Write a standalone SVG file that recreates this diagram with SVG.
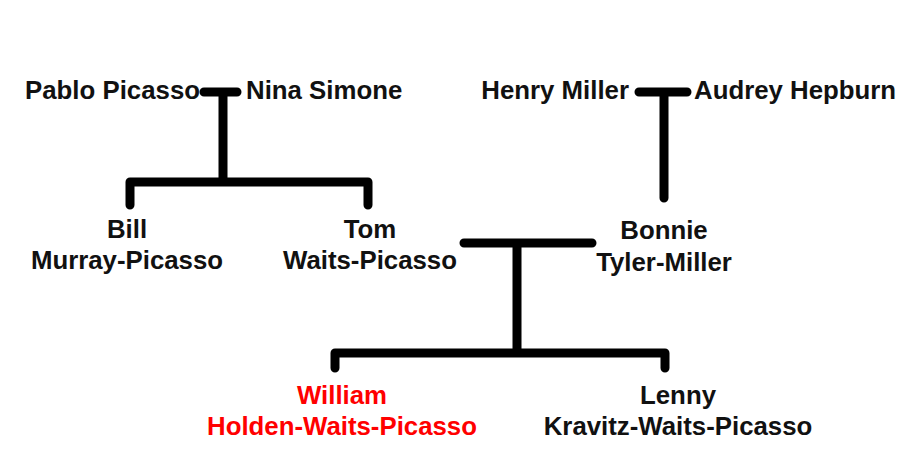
<svg xmlns="http://www.w3.org/2000/svg" width="900" height="461" viewBox="0 0 900 461">
<style>
.t{font-family:"Liberation Sans",Arial,sans-serif;font-weight:bold;font-size:25.8px;fill:#111}
.c{text-anchor:middle}
.red{fill:#ff0000}
.ln{fill:none;stroke:#000;stroke-width:9;stroke-linecap:round;stroke-linejoin:round}
</style>
<rect width="900" height="461" fill="#fff"/>
<g id="connectors">
<path class="ln" d="M204,92 H237 M223,92 V180"/>
<path class="ln" d="M130,205 V182 H368 V205"/>
<path class="ln" d="M639,92 H687 M664,92 V198"/>
<path class="ln" d="M464,243 H592 M517,243 V352"/>
<path class="ln" d="M335,368 V353 H665 V368"/>
</g>
<g id="pablo"><text class="t" x="200" y="99" text-anchor="end">Pablo Picasso</text></g>
<g id="nina"><text class="t" x="246" y="99">Nina Simone</text></g>
<g id="henry"><text class="t" x="629" y="99" text-anchor="end">Henry Miller</text></g>
<g id="audrey"><text class="t" x="694" y="99">Audrey Hepburn</text></g>
<g id="bill"><text class="t c" x="127" y="238">Bill</text><text class="t c" x="127" y="269">Murray-Picasso</text></g>
<g id="tom"><text class="t c" x="370" y="238">Tom</text><text class="t c" x="370" y="269">Waits-Picasso</text></g>
<g id="bonnie"><text class="t c" x="664" y="239">Bonnie</text><text class="t c" x="664" y="271">Tyler-Miller</text></g>
<g id="william"><text class="t c red" x="342" y="404">William</text><text class="t c red" x="342" y="435">Holden-Waits-Picasso</text></g>
<g id="lenny"><text class="t c" x="678" y="404">Lenny</text><text class="t c" x="678" y="435">Kravitz-Waits-Picasso</text></g>
</svg>
